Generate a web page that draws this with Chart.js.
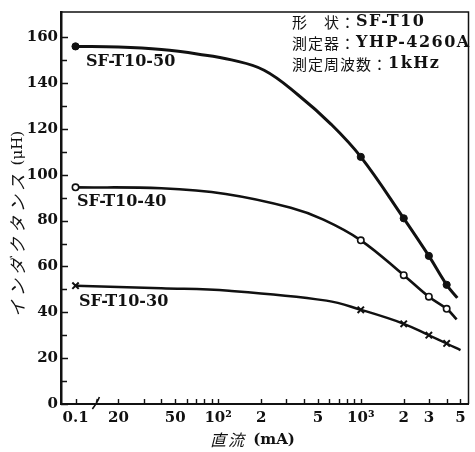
<!DOCTYPE html>
<html lang="ja">
<head>
<meta charset="utf-8">
<title>インダクタンス vs 直流</title>
<script src="https://cdn.jsdelivr.net/npm/chart.js@4/dist/chart.umd.min.js"></script>
<style>
  html, body { margin: 0; padding: 0; background: #fff; }
  #wrap { width: 475px; height: 452px; position: relative; }
</style>
</head>
<body>
<div id="wrap"><canvas id="chart-inductance"></canvas></div>
<script>
// 0.1 mA sits left of the axis break, drawn at the position of 10 on the log scale
const BREAK_VALUE = 10;

// currents (mA) and inductance (uH)
const sf50Current = [0.1, 20, 40, 73, 124, 210, 364, 620, 1000, 2000, 3000, 4000, 4750];
const sf50Induct  = [156, 155.7, 154.6, 152.6, 150.1, 145.6, 134.8, 122, 107.8, 81, 64.6, 52, 46.3];
const sf50Marked  = [0.1, 1000, 2000, 3000, 4000];

const sf40Current = [0.1, 40, 113, 323, 547, 1000, 2000, 3000, 4000, 4700];
const sf40Induct  = [94.5, 94.1, 91.6, 85.6, 80.4, 71.4, 56.2, 46.8, 41.5, 36.9];
const sf40Marked  = [0.1, 1000, 2000, 3000, 4000];

const sf30Current = [0.1, 40, 119, 575, 1000, 2000, 3000, 4000, 5000];
const sf30Induct  = [51.6, 50.5, 49.4, 45.1, 41.1, 35, 30, 26.4, 23.5];
const sf30Marked  = [0.1, 1000, 2000, 3000, 4000];

const seriesNames = ["SF-T10-50", "SF-T10-40", "SF-T10-30"];

const xTickValues = [10, 20, 50, 100, 200, 500, 1000, 2000, 3000, 5000];
const xTickLabels = ["0.1", "20", "50", "10²", "2", "5", "10³", "2", "3", "5"];
const xMinorTicks = [30, 40, 60, 70, 80, 90, 300, 400, 600, 700, 800, 900, 4000];
const yTickValues = [0, 20, 40, 60, 80, 100, 120, 140, 160];
const yMinorTicks = [10, 30, 50, 70, 90, 110, 130, 150];

const noteLines = [
  ["形　状：", "SF-T10"],
  ["測定器：", "YHP-4260A"],
  ["測定周波数：", "1kHz"]
];

const INK = "#111";
const SERIF = "'DejaVu Serif', 'Liberation Serif', serif";
const CJK = "'Noto Sans CJK JP', sans-serif";

function toAxis(mA) {
  return mA === 0.1 ? BREAK_VALUE : mA;
}

function points(currents, values) {
  return currents.map((c, i) => ({ x: toAxis(c), y: values[i] }));
}

function markerRadius(currents, marked, r) {
  return currents.map(c => (marked.includes(c) ? r : 0));
}

function curve(label, currents, values, marked, opts) {
  return {
    label,
    data: points(currents, values),
    borderColor: INK,
    borderWidth: opts.width,
    pointStyle: opts.style,
    pointRadius: markerRadius(currents, marked, opts.radius),
    pointBackgroundColor: opts.fill,
    pointBorderColor: INK,
    pointBorderWidth: opts.pointBorder,
    tension: 0.4,
    fill: false
  };
}

const decorations = {
  id: "decorations",
  afterDraw(chart) {
    const { ctx, chartArea: a } = chart;
    const x = chart.scales.x;
    const y = chart.scales.y;
    ctx.save();
    ctx.strokeStyle = INK;
    ctx.fillStyle = INK;

    // frame top + right
    ctx.lineWidth = 1.5;
    ctx.beginPath();
    ctx.moveTo(a.left, a.top);
    ctx.lineTo(a.right, a.top);
    ctx.lineTo(a.right, a.bottom);
    ctx.stroke();

    // inward ticks
    ctx.lineWidth = 1.4;
    ctx.beginPath();
    yTickValues.concat(yMinorTicks).forEach(v => {
      const py = Math.round(y.getPixelForValue(v)) + 0.5;
      ctx.moveTo(a.left, py);
      ctx.lineTo(a.left + (yTickValues.includes(v) ? 7 : 6), py);
    });
    xTickValues.concat(xMinorTicks).forEach(v => {
      const px = Math.round(x.getPixelForValue(v)) + 0.5;
      ctx.moveTo(px, a.bottom);
      ctx.lineTo(px, a.bottom - 5);
    });
    ctx.stroke();

    // axis break mark
    const bx = x.getPixelForValue(14);
    ctx.lineWidth = 1.6;
    ctx.beginPath();
    ctx.moveTo(bx - 4, a.bottom + 5);
    ctx.bezierCurveTo(bx - 1, a.bottom + 1, bx + 2, a.bottom - 4, bx + 3, a.bottom - 7);
    ctx.moveTo(bx, a.bottom - 1);
    ctx.lineTo(bx + 1, a.bottom - 5);
    ctx.stroke();

    // series labels
    ctx.font = "bold 16px " + SERIF;
    ctx.textBaseline = "middle";
    ctx.textAlign = "left";
    ctx.fillText(seriesNames[0], 86, 62);
    ctx.fillText(seriesNames[1], 77, 202);
    ctx.fillText(seriesNames[2], 79, 302);

    // measurement notes
    noteLines.forEach((parts, i) => {
      const ly = 22 + i * 21;
      ctx.letterSpacing = "1px";
      ctx.font = "15px " + CJK;
      ctx.fillText(parts[0], 292, ly);
      const w = ctx.measureText(parts[0]).width;
      ctx.letterSpacing = "1.5px";
      ctx.font = "bold 16px " + SERIF;
      ctx.fillText(parts[1], 292 + w, ly);
    });

    // x title
    ctx.letterSpacing = "2px";
    ctx.font = "italic 16px " + CJK;
    ctx.textAlign = "left";
    ctx.fillText("直流", 210, 440);
    ctx.letterSpacing = "0px";
    ctx.font = "bold 15px " + SERIF;
    ctx.fillText(" (mA)", 248, 440);

    // y title
    ctx.translate(18, 224);
    ctx.rotate(-Math.PI / 2);
    ctx.letterSpacing = "4px";
    ctx.font = "italic 17px " + CJK;
    const kana = "インダクタンス";
    const unit = " (μH)";
    const kw = ctx.measureText(kana).width;
    ctx.letterSpacing = "0px";
    ctx.font = "15px " + SERIF;
    const uw = ctx.measureText(unit).width;
    const start = -(kw + uw) / 2;
    ctx.letterSpacing = "4px";
    ctx.font = "italic 17px " + CJK;
    ctx.fillText(kana, start, 0);
    ctx.letterSpacing = "0px";
    ctx.font = "15px " + SERIF;
    ctx.fillText(unit, start + kw, 0);

    ctx.restore();
  }
};

new Chart(document.getElementById("chart-inductance").getContext("2d"), {
  type: "line",
  data: {
    datasets: [
      curve(seriesNames[0], sf50Current, sf50Induct, sf50Marked,
        { width: 3, style: "circle", radius: 3.6, fill: INK, pointBorder: 1 }),
      curve(seriesNames[1], sf40Current, sf40Induct, sf40Marked,
        { width: 2.6, style: "circle", radius: 3.2, fill: "#fff", pointBorder: 1.6 }),
      curve(seriesNames[2], sf30Current, sf30Induct, sf30Marked,
        { width: 2.4, style: "crossRot", radius: 4.5, fill: INK, pointBorder: 2 })
    ]
  },
  options: {
    responsive: true,
    maintainAspectRatio: false,
    animation: false,
    layout: { padding: { top: 8, right: 2, left: 0, bottom: 0 } },
    plugins: { legend: { display: false }, tooltip: { enabled: false } },
    scales: {
      x: {
        type: "logarithmic",
        min: 7.91,
        max: 5690,
        afterBuildTicks: scale => { scale.ticks = xTickValues.map(v => ({ value: v })); },
        afterFit: scale => { scale.height = 48; },
        ticks: {
          color: INK,
          font: { family: SERIF, size: 15, weight: "bold" },
          padding: 5,
          autoSkip: false,
          maxRotation: 0,
          callback: (value) => {
            const i = xTickValues.indexOf(value);
            return i >= 0 ? xTickLabels[i] : "";
          }
        },
        grid: { display: false, drawTicks: false },
        border: { display: true, color: INK, width: 2 }
      },
      y: {
        min: 0,
        max: 171,
        afterBuildTicks: scale => { scale.ticks = yTickValues.map(v => ({ value: v })); },
        afterFit: scale => { scale.width = 61; },
        ticks: {
          color: INK,
          font: { family: SERIF, size: 15, weight: "bold" },
          padding: 3
        },
        grid: { display: false, drawTicks: false },
        border: { display: true, color: INK, width: 2.5 }
      }
    }
  },
  plugins: [decorations]
});
</script>
</body>
</html>
